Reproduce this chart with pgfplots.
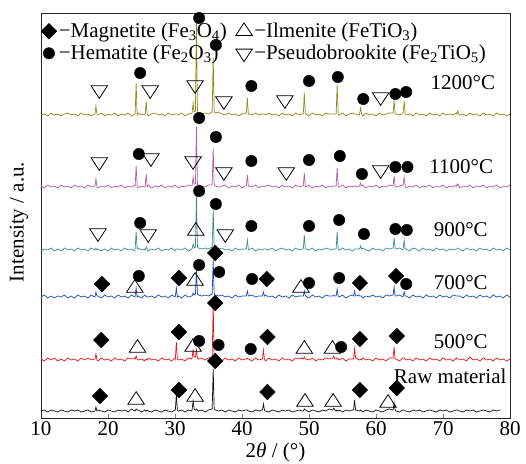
\documentclass[border=0pt]{standalone}
\usepackage{fontspec}
\setmainfont{Liberation Serif}
\usepackage{pgfplots}
\usepackage{pgfplotstable}
\pgfplotsset{compat=1.18}
\definecolor{cRaw}{HTML}{111111}
\definecolor{cA}{HTML}{E8141B}
\definecolor{cB}{HTML}{1F4BAE}
\definecolor{cC}{HTML}{3E8C88}
\definecolor{cD}{HTML}{B45CAE}
\definecolor{cE}{HTML}{8C8C1E}
\newcommand{\bigf}{\fontsize{21}{25}\selectfont}
% offsets above each pattern's baseline (r=raw, a=500, b=700, c=900, d=1100, e=1200)
\pgfplotstableread{
x r a b c d e
10.0 0 1 0 -1 1 0
10.5 1 -1 2 1 -1 1
11.0 -1 2 -1 0 2 -1
11.5 1 0 1 2 0 2
12.0 0 2 -1 -1 1 0
12.5 -1 -1 1 1 -1 1
13.0 1 1 0 -1 2 -1
13.5 0 -1 2 2 0 1
14.0 -1 2 -1 0 1 2
14.5 1 0 1 1 -1 0
15.0 0 1 -1 -1 2 1
15.5 1 -1 2 2 0 -1
16.0 -1 2 0 0 1 2
16.5 0 0 1 1 -1 0
17.0 1 2 -1 -1 2 1
17.5 -1 0 2 2 0 -1
18.0 0 1 0 0 1 1
18.05 0 1 0 0 1 1
18.2 4 6 5 2 8 9
18.35 0 0 1 0 0 1
18.5 1 -1 1 1 -1 0
19.0 0 2 -1 -1 1 2
19.5 -1 0 2 1 0 -1
20.0 1 1 0 -1 2 1
20.5 0 -1 1 2 -1 0
21.0 -1 2 -1 0 1 2
21.5 1 0 2 1 0 -1
22.0 0 1 0 -1 2 1
22.5 1 -1 1 2 -1 0
23.0 -1 2 -1 0 1 2
23.5 2 1 2 1 0 -1
24.0 0 2 0 -1 2 1
24.05 0 1 1 1 1 1
24.2 2 4 9 18 21 32
24.35 1 1 0 1 1 0
24.5 1 0 1 2 -1 2
25.0 -1 1 -1 0 1 0
25.5 1 -1 2 1 0 1
25.55 0 0 1 0 1 1
25.7 0 1 1 3 13 13
25.85 1 0 0 1 0 1
26.0 0 2 0 -1 2 -1
26.5 -1 0 1 1 -1 1
27.0 1 1 -1 0 1 2
27.5 0 -1 2 2 0 0
28.0 -1 2 0 -1 2 1
28.5 1 0 1 1 -1 -1
29.0 0 1 -1 0 1 2
29.5 -1 -1 2 2 0 0
30.0 1 2 0 -1 2 1
30.05 1 1 1 0 1 1
30.2 17 18 9 1 1 1
30.35 1 1 0 1 0 1
30.5 0 0 1 1 -1 0
31.0 1 1 -1 0 1 2
31.5 -1 -1 2 2 0 -1
32.0 1 2 0 -1 2 1
32.5 0 1 1 1 1 2
32.55 1 2 1 1 1 2
32.7 10 10 4 6 10 12
32.85 2 3 2 2 3 3
33.0 1 3 3 3 3 4
33.05 1 3 3 3 3 4
33.2 2 10 27 55 60 95
33.35 1 2 3 3 3 4
33.5 0 1 2 2 2 2
34.0 1 2 1 1 1 1
34.5 -1 0 2 2 0 2
35.0 1 2 1 1 2 1
35.5 2 3 3 3 2 3
35.55 2 3 3 3 3 3
35.7 42 57 37 40 38 57
35.85 2 3 3 3 3 3
36.0 1 2 2 2 1 2
36.5 0 1 1 1 0 3
37.0 1 -1 2 2 1 1
37.5 -1 2 0 0 2 0
38.0 1 0 1 1 -1 2
38.5 0 1 -1 -1 1 0
39.0 -1 -1 2 2 0 1
39.5 1 2 0 0 2 -1
40.0 0 0 1 1 -1 1
40.5 1 1 1 1 1 2
40.65 1 1 1 1 1 2
40.8 1 2 6 10 12 17
40.95 0 1 1 1 1 1
41.0 0 1 1 0 1 1
41.5 -1 -1 2 2 0 0
42.0 1 2 0 -1 2 2
42.5 0 0 1 1 -1 0
43.0 1 1 1 0 1 1
43.05 1 1 1 0 1 1
43.2 7 10 5 1 1 1
43.35 1 1 1 1 0 1
43.5 0 -1 2 1 1 0
44.0 -1 2 0 0 2 2
44.5 1 0 1 2 0 0
45.0 0 1 -1 -1 1 1
45.5 -1 -1 2 1 -1 -1
46.0 1 2 0 2 2 2
46.5 0 0 1 0 0 0
47.0 1 1 -1 1 1 1
47.5 -1 -1 2 -1 -1 -1
48.0 0 2 0 2 2 2
48.5 1 1 1 0 0 0
49.0 0 2 1 1 1 1
49.15 0 1 1 1 1 1
49.3 2 3 6 15 14 22
49.45 1 1 1 1 0 1
49.5 1 1 1 1 0 1
50.0 -1 0 -1 0 2 -1
50.5 1 2 2 2 -1 2
51.0 0 -1 0 -1 1 0
51.5 -1 1 1 1 0 1
52.0 1 0 -1 0 2 -1
52.5 0 2 2 2 -1 2
53.0 2 1 1 1 1 1
53.5 1 2 1 0 0 1
53.55 1 2 1 1 1 1
53.7 3 4 2 1 1 1
53.85 1 1 1 1 1 1
54.0 0 1 1 1 1 1
54.05 0 1 1 1 1 1
54.2 1 2 8 18 19 30
54.35 0 1 1 1 1 1
54.5 1 0 0 0 0 0
55.0 -1 2 2 2 2 2
55.5 1 -1 -1 0 -1 -1
56.0 0 1 1 1 1 1
56.5 1 1 2 -1 0 2
56.65 1 1 1 0 1 1
56.8 11 11 6 1 1 1
56.95 1 2 1 1 1 1
57.0 1 2 1 1 0 1
57.5 0 0 2 1 1 0
57.55 0 0 1 1 1 1
57.7 1 1 1 4 4 7
57.85 0 0 1 1 1 1
58.0 -1 2 -1 2 2 -1
58.5 1 0 1 0 -1 2
59.0 0 1 0 -1 1 0
59.5 -1 -1 2 2 0 1
60.0 1 2 0 0 2 -1
60.5 0 0 1 1 -1 2
61.0 -1 1 -1 -1 1 0
61.5 1 -1 2 2 0 1
62.0 2 2 1 1 2 2
62.5 1 2 2 2 1 2
62.55 1 2 2 2 1 2
62.7 8 13 10 12 11 15
62.85 1 1 1 1 1 1
63.0 0 1 1 1 0 1
63.5 -1 -1 2 2 1 0
64.0 1 2 0 0 2 2
64.05 1 2 1 1 2 2
64.2 1 2 5 10 10 14
64.35 0 1 1 1 1 1
64.5 0 0 1 1 -1 0
65.0 -1 1 -1 -1 1 1
65.5 1 -1 2 2 0 -1
66.0 0 2 0 1 2 2
66.5 1 0 1 -1 -1 0
67.0 -1 1 -1 2 1 1
67.5 0 -1 2 0 0 -1
68.0 1 2 0 1 2 2
68.5 0 0 1 -1 -1 0
69.0 -1 1 -1 2 1 1
69.5 1 -1 2 0 0 -1
70.0 0 2 0 1 2 2
70.5 1 0 1 -1 -1 0
71.0 -1 1 -1 1 1 1
71.5 0 -1 2 0 0 0
72.0 1 2 1 1 2 2
72.05 1 1 1 1 1 1
72.2 1 1 1 2 3 4
72.35 0 1 1 1 1 1
72.5 0 0 1 1 -1 0
73.0 -1 1 -1 -1 1 1
73.5 1 -1 2 2 0 -1
74.0 0 3 0 0 2 2
74.5 1 0 1 1 -1 0
75.0 -1 1 -1 -1 1 1
75.5 0 -1 2 2 0 -1
76.0 1 2 0 0 2 2
76.5 0 0 1 1 -1 0
77.0 -1 1 -1 -1 1 1
77.5 1 -1 2 2 0 -1
78.0 0 2 0 0 2 2
78.5 1 0 1 1 -1 0
79.0 nan 1 -1 -1 1 1
79.5 nan -1 2 2 0 -1
80.0 nan 1 0 0 2 1
}\xrd
\begin{document}
\begin{tikzpicture}
\begin{axis}[
  scale only axis, width=469pt, height=405pt,
  xmin=10, xmax=80, ymin=0, ymax=405,
  xtick={10,20,...,80}, ytick=\empty,
  xtick pos=bottom, tick align=inside, major tick length=4pt,
  axis line style={line width=0.9pt, black!85},
  clip=false,
  /pgf/number format/assume math mode=true,
  xticklabel style={font=\bigf},
  every tick label/.append style={font=\bigf},
  label style={font=\bigf},
  xlabel={2\textit{θ} / (°)},
  ylabel={Intensity / a.u.},
  xlabel style={at={(axis description cs:0.5,-0.086)}, anchor=center, font=\bigf},
  ylabel style={at={(axis description cs:-0.047,0.484)}, anchor=center, font=\bigf},
  legend columns=2,
  legend cell align=left,
  legend style={at={(axis description cs:0,1)}, anchor=north west, yshift=-8pt, draw=none, fill=none,
    font=\bigf, inner xsep=0pt, inner ysep=0pt, row sep=2pt,
    cells={font=\bigf, inner xsep=0.5pt, inner ysep=0.5pt},
    /tikz/every even column/.append style={column sep=7pt}},
  legend image code/.code={\draw[#1] plot coordinates {(0.25cm,0cm)};},
  unbounded coords=jump,
]
\addplot[cRaw, line width=0.7pt, no marks, forget plot] table[x=x, y expr=\thisrow{r}+7] {\xrd};
\addplot[cA, line width=0.7pt, no marks, forget plot] table[x=x, y expr=\thisrow{a}+58] {\xrd};
\addplot[cB, line width=0.7pt, no marks, forget plot] table[x=x, y expr=\thisrow{b}+121] {\xrd};
\addplot[cC, line width=0.7pt, no marks, forget plot] table[x=x, y expr=\thisrow{c}+168] {\xrd};
\addplot[cD, line width=0.7pt, no marks, forget plot] table[x=x, y expr=\thisrow{d}+231] {\xrd};
\addplot[cE, line width=0.7pt, no marks, forget plot] table[x=x, y expr=\thisrow{e}+303] {\xrd};
% Magnetite
\addplot[only marks, mark=square*, mark size=5.5pt, mark options={rotate=45, fill=black, draw=black}] coordinates {
(18.8,22) (30.6,28) (36.0,57) (43.8,26) (57.6,28) (63.1,30)
(19.0,78) (30.6,86) (36.0,115) (43.8,81) (57.6,79) (63.1,82)
(19.1,134) (30.6,140) (36.0,165) (43.7,139) (57.6,135) (63.0,142)};
\addlegendentry{−Magnetite (Fe\textsubscript{3}O\textsubscript{4})}
% Ilmenite
\addplot[only marks, mark=triangle, mark size=9.5pt, mark options={draw=black, line width=0.8pt, yscale=0.88}] coordinates {
(24.2,18) (33.0,21) (49.4,16) (53.6,16) (61.8,15)
(24.4,70) (32.7,71) (49.3,69) (53.5,69)
(24.0,130) (33.0,137) (48.8,130)
(33.1,187)};
\addlegendentry{−Ilmenite (FeTiO\textsubscript{3})}
% Hematite
\addplot[only marks, mark=*, mark size=5.7pt, mark options={fill=black, draw=black}] coordinates {
(33.6,77) (36.5,73) (41.3,69) (54.8,71)
(24.6,142) (33.6,153) (36.6,146) (41.5,139) (50.0,135) (54.5,140) (64.5,134)
(24.8,195) (33.6,227) (36.1,214) (41.4,192) (50.0,192) (54.5,198) (58.2,184) (62.9,189) (64.6,188)
(24.6,264) (33.6,300) (36.1,281) (41.4,257) (50.0,258) (54.6,262) (57.9,244) (62.9,251) (64.7,251)
(24.8,345) (33.6,400) (36.1,373) (41.4,332) (50.0,337) (54.3,341) (58.1,319) (62.9,324) (64.5,326)};
\addlegendentry{−Hematite (Fe\textsubscript{2}O\textsubscript{3})}
% Pseudobrookite
\addplot[only marks, mark=triangle, mark size=9.5pt, mark options={draw=black, line width=0.8pt, rotate=180, yscale=0.88}] coordinates {
(18.5,185) (26.0,184) (37.5,184)
(18.7,256) (26.4,260) (32.7,257) (37.3,246) (46.6,246) (60.7,248)
(18.7,328) (26.3,328) (33.0,333) (37.3,317) (46.4,318) (60.7,321)};
\addlegendentry{−Pseudobrookite (Fe\textsubscript{2}TiO\textsubscript{5})}
\begin{scope}[font=\bigf]
\node[anchor=east, inner sep=0pt] at (axis cs:77.8,335) {1200°C};
\node[anchor=east, inner sep=0pt] at (axis cs:77.5,251) {1100°C};
\node[anchor=east, inner sep=0pt] at (axis cs:76.7,188) {900°C};
\node[anchor=east, inner sep=0pt] at (axis cs:76.7,135) {700°C};
\node[anchor=east, inner sep=0pt] at (axis cs:76.7,76) {500°C};
\node[anchor=east, inner sep=0pt] at (axis cs:79.5,42) {Raw material};
\end{scope}
\end{axis}
\pgfresetboundingbox
\path[use as bounding box] ([shift={(-41pt,-45pt)}]current axis.south west) rectangle ([shift={(16pt,13pt)}]current axis.north east);
\end{tikzpicture}
\end{document}
